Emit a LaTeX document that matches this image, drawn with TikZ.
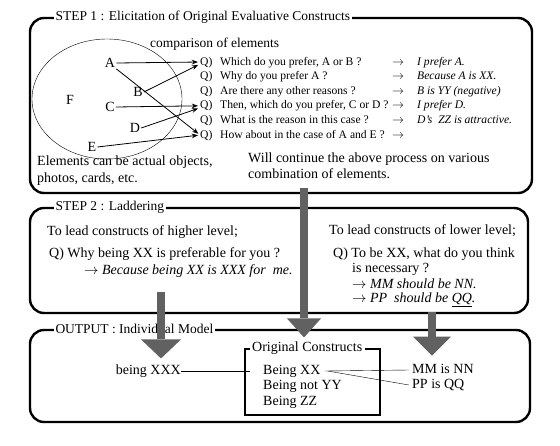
\documentclass[tikz,border=0pt]{standalone}
\usepackage{fontspec}
\setmainfont{Liberation Serif}
\usetikzlibrary{arrows.meta, positioning}

\begin{document}
\begin{tikzpicture}[x=1pt, y=-1pt, font=\fontsize{14}{16}\selectfont]
    \tikzset{
        stepframe/.style={rectangle, draw, line width=2.4pt, rounded corners=14pt},
        steptitle/.style={anchor=west, fill=white, inner xsep=1.5pt, inner ysep=0pt,
            font=\fontsize{13.5}{15}\selectfont},
        qline/.style={anchor=west, inner sep=0pt, text height=8pt, text depth=2pt,
            font=\fontsize{11.6}{13}\selectfont},
        answer/.style={anchor=west, inner sep=0pt, text height=8pt, text depth=2pt,
            font=\fontsize{11.6}{13}\selectfont},
        elem/.style={inner sep=1pt, font=\fontsize{14}{15}\selectfont},
        plain/.style={anchor=west, inner sep=0pt, text height=9.5pt, text depth=3pt},
        pick/.style={thick, shorten >=2pt, -{Stealth[length=2.2mm]}},
        link/.style={thin},
        bigarrow/.style={line width=8pt, draw=black!62,
            -{Triangle[width=#1, length=19pt, line width=0pt]}},
        bigarrow/.default=40pt
    }
    \useasboundingbox (0,0) rectangle (560,445);
    % frames
    \node[stepframe, minimum width=502pt, minimum height=175pt] (step1) at (281,105.5) {};
    \node[stepframe, minimum width=498pt, minimum height=105pt] (step2) at (279,260.5) {};
    \node[stepframe, minimum width=500pt, minimum height=92pt] (output) at (280,376) {};
    \node[steptitle] (t1) at ([xshift=25pt]step1.north west) {STEP 1 : Elicitation of Original Evaluative Constructs};
    \node[steptitle] (t2) at ([xshift=25pt]step2.north west) {STEP 2 : Laddering};
    \node[steptitle] (t3) at ([xshift=25pt]output.north west) {OUTPUT : Individual Model};
    % step 1
    \draw[thin] (107,99) ellipse [x radius=75, y radius=60];
    \node[plain, font=\fontsize{13.5}{15}\selectfont] (cmp) at (150,44) {comparison of elements};
    \node[elem] (F) at (70,100) {F};
    \node[elem] (A) at (110,63) {A};
    \node[elem] (B) at (138,92) {B};
    \node[elem] (C) at (110,107) {C};
    \node[elem] (D) at (135,128) {D};
    \node[elem] (E) at (92,147) {E};
    \node[qline] (q1) at (200,62) {\makebox[20pt][l]{Q)}Which do you prefer, A or B ?};
    \node[qline] (q2) at (200,76.6) {\makebox[20pt][l]{Q)}Why do you prefer A ?};
    \node[qline] (q3) at (200,91.2) {\makebox[20pt][l]{Q)}Are there any other reasons ?};
    \node[qline] (q4) at (200,105.8) {\makebox[20pt][l]{Q)}Then, which do you prefer, C or D ?};
    \node[qline] (q5) at (200,120.4) {\makebox[20pt][l]{Q)}What is the reason in this case ?};
    \node[qline] (q6) at (200,135) {\makebox[20pt][l]{Q)}How about in the case of A and E ?};
    \node[answer] (r1) at (392,62) {\makebox[25pt][l]{$\rightarrow$}\textit{I prefer A.}};
    \node[answer] (r2) at (392,76.6) {\makebox[25pt][l]{$\rightarrow$}\textit{Because A is XX.}};
    \node[answer] (r3) at (392,91.2) {\makebox[25pt][l]{$\rightarrow$}\textit{B is YY (negative)}};
    \node[answer] (r4) at (392,105.8) {\makebox[25pt][l]{$\rightarrow$}\textit{I prefer D.}};
    \node[answer] (r5) at (392,120.4) {\makebox[25pt][l]{$\rightarrow$}\textit{D's\ \ ZZ\ is attractive.}};
    \node[answer] (r6) at (392,135) {$\rightarrow$};
    \draw[pick] (A.east) -- (q1.west);
    \draw[pick] (A.south east) -- (q6.west);
    \draw[pick] (B.east) -- ([yshift=-2pt]q1.west);
    \draw[pick] (C.east) -- (q4.west);
    \draw[pick] (D.east) -- ([yshift=-2pt]q4.west);
    \draw[pick] (E.east) -- (q6.west);
    \node[anchor=north west, align=left, inner sep=0pt, font=\fontsize{14}{17}\selectfont]
        (elems) at (37,156) {Elements can be actual objects,\\photos, cards, etc.};
    \node[anchor=north west, align=left, inner sep=0pt, font=\fontsize{14}{16}\selectfont]
        (cont) at (248,153) {Will continue the above process on various\\combination of elements.};
    % step 2
    \node[plain] (hi1) at (47,232) {To lead constructs of higher level;};
    \node[plain] (hiq) at (49,254) {Q) Why being XX is preferable for you ?};
    \node[plain] (hia) at (84,271) {$\rightarrow$ \textit{Because being XX is XXX for\ \ me.}};
    \node[plain] (lo1) at (329,231) {To lead constructs of lower level;};
    \node[plain] (loq) at (333,254) {Q) To be XX, what do you think};
    \node[plain] (loq2) at (352,269) {is necessary ?};
    \node[plain] (loa1) at (352,285) {$\rightarrow$ \textit{MM should be NN.}};
    \node[plain] (loa2) at (352,299) {$\rightarrow$ \textit{PP\ \ should be \underline{QQ}.}};
    % output
    \node[anchor=east, inner sep=0pt] (xxx) at (181,371) {being XXX};
    \node[draw, line width=1.1pt, minimum width=135pt, minimum height=66pt] (ocbox) at (312.5,382) {};
    \node[steptitle, inner xsep=2.5pt, font=\fontsize{14}{16}\selectfont] (oct) at ([xshift=5pt]ocbox.north west) {Original Constructs};
    \node[plain] (b1) at (263,371) {Being XX};
    \node[plain] (b2) at (263,386) {Being not YY};
    \node[plain] (b3) at (263,402) {Being ZZ};
    \node[plain] (mm) at (412,370) {MM is NN};
    \node[plain] (pp) at (412,385) {PP is QQ};
    \draw[link] (xxx.east) -- ([xshift=-13pt]b1.west);
    \draw[link] ([xshift=4pt]b1.east) -- ([xshift=-3pt]mm.west);
    \draw[link] ([xshift=7pt]b1.east) -- ([xshift=-3pt]pp.west);
    % shaded arrows between steps
    \coordinate (hiS) at (161,292);
    \coordinate (midS) at (304,188);
    \coordinate (loS) at (432,312);
    \draw[bigarrow] (hiS) -- ([yshift=6pt]xxx.north -| hiS);
    \draw[bigarrow=34pt] (midS) -- ([yshift=11pt]ocbox.north -| midS);
    \draw[bigarrow=38pt] (loS) -- ([yshift=8pt]mm.north -| loS);
\end{tikzpicture}
\end{document}
